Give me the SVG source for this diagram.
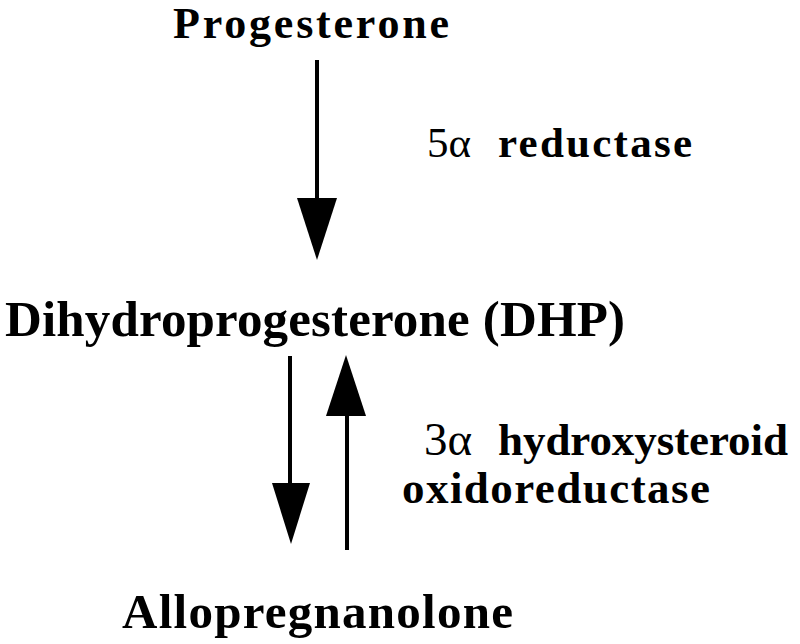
<svg xmlns="http://www.w3.org/2000/svg" width="800" height="644" viewBox="0 0 800 644">
<style>
.t{font-family:"Liberation Serif","Times New Roman",serif;fill:#000}
.b{font-weight:bold}
.r{font-weight:normal}
.shaft{stroke:#000;stroke-width:4;fill:none}
.head{fill:#000;stroke:none}
</style>
<rect width="800" height="644" fill="#fff"/>
<g id="progesterone">
<text class="t b" x="173" y="38" font-size="44" textLength="276" lengthAdjust="spacing">Progesterone</text>
</g>
<g id="dhp">
<text class="t b" x="5" y="336" font-size="51" textLength="620" lengthAdjust="spacing">Dihydroprogesterone (DHP)</text>
</g>
<g id="allopregnanolone">
<text class="t b" x="122" y="628" font-size="49" textLength="391" lengthAdjust="spacing">Allopregnanolone</text>
</g>
<g id="label-5a">
<text class="t r" x="427" y="157" font-size="43">5α</text>
<text class="t b" x="498" y="157" font-size="43" textLength="194" lengthAdjust="spacing">reductase</text>
</g>
<g id="label-3a">
<text class="t r" x="424" y="455" font-size="47">3α</text>
<text class="t b" x="498" y="455" font-size="45" textLength="290" lengthAdjust="spacing">hydroxysteroid</text>
<text class="t b" x="402" y="503" font-size="45" textLength="308" lengthAdjust="spacing">oxidoreductase</text>
</g>
<g id="connectors">
<line class="shaft" x1="317" y1="60" x2="317" y2="200"/>
<polygon class="head" points="297,198 337,198 317,260"/>
<line class="shaft" x1="290" y1="356" x2="290" y2="485"/>
<polygon class="head" points="272,483 310,483 291,544"/>
<line class="shaft" x1="347" y1="550" x2="347" y2="414"/>
<polygon class="head" points="326,416 366,416 346,355"/>
</g>
</svg>
